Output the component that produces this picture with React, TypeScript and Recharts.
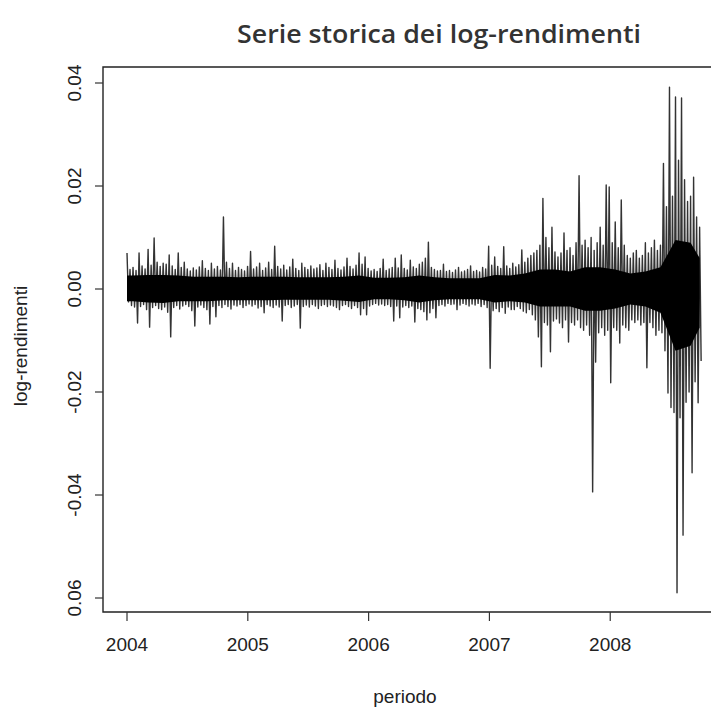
import React from "react";
import { ComposedChart, Line, Area, XAxis, YAxis, ReferenceArea } from "recharts";

const yearTicks = [2004, 2005, 2006, 2007, 2008];
const returnTicks = [0.04, 0.02, 0, -0.02, -0.04, -0.06];
const returnTickLabels = ["0.04", "0.02", "0.00", "-0.02", "-0.04", "0.06"];

const firstDay = 2004.0;
const lastDay = 2008.74;

// envelope of the daily log-returns, in thousandths, one pair every ~9 trading days
const highs = [
  7.0, 3.8, 4.2, 3.6, 7.0, 4.5, 3.9, 7.7, 4.6, 9.9,
  5.2, 4.4, 5.0, 4.8, 6.6, 4.5, 3.8, 7.0, 4.2, 5.2,
  3.9, 3.5, 4.1, 3.7, 4.3, 5.5, 4.0, 3.6, 5.0, 3.9,
  4.4, 3.7, 14.0, 5.2, 4.0, 5.0, 3.6, 4.2, 3.8, 3.5,
  4.4, 7.3, 3.9, 4.3, 5.0, 3.6, 4.1, 5.2, 3.8, 8.3,
  4.4, 3.9, 4.6, 3.7, 4.3, 5.8, 4.0, 3.6, 5.0, 4.2,
  3.8, 4.5, 3.9, 4.1, 4.7, 3.6, 5.0, 4.2, 3.8, 5.6,
  4.0, 3.7, 4.3, 6.0, 4.4, 3.9, 4.6, 7.0, 4.8, 6.2,
  4.0, 3.5, 3.8, 3.4, 4.0, 5.8, 3.6, 3.9, 4.2, 6.0,
  4.1, 6.6, 4.0, 3.7, 5.6, 4.3, 4.0, 4.8, 5.2, 6.0,
  9.1, 4.2, 3.8, 3.5, 3.6, 4.8, 3.4, 3.6, 3.2, 3.7,
  4.2, 3.3, 3.5, 3.8, 4.5, 3.4, 3.6, 3.3, 4.2, 3.9,
  8.3, 4.6, 6.2, 4.4, 4.0, 8.2, 4.5, 4.0, 5.0, 4.3,
  4.7, 7.6, 5.2, 6.0, 6.5, 7.0, 7.5, 8.5, 17.6, 10.0,
  8.0, 12.0, 7.2, 6.2, 7.0, 10.9, 7.5, 8.0, 6.5, 9.0,
  22.0, 8.5, 9.5, 8.0, 10.0, 7.5, 9.0, 12.0, 8.5, 20.2,
  19.8, 9.0, 13.0, 8.0, 17.3, 8.5, 6.5, 6.0, 7.0, 7.5,
  6.0, 6.5, 9.0, 7.0, 8.0, 9.5, 7.5, 8.5, 24.4, 16.0,
  39.2, 18.0, 37.3, 25.0, 37.1, 21.2, 17.0, 18.0, 21.7, 14.0, 12.0,
];

const lows = [
  -2.5, -3.2, -3.5, -6.6, -3.4, -3.0, -4.0, -7.4, -3.6, -3.2,
  -3.8, -4.0, -3.5, -4.5, -9.3, -3.6, -3.2, -3.9, -3.3, -3.0,
  -3.4, -4.2, -7.2, -3.5, -3.1, -3.6, -4.0, -6.8, -3.4, -5.4,
  -3.2, -3.6, -3.0, -3.4, -3.9, -3.1, -3.3, -3.0, -3.6, -3.2,
  -2.9, -3.3, -3.0, -3.7, -3.4, -4.6, -3.0, -3.3, -3.6, -3.1,
  -3.5, -6.2, -3.2, -3.0, -3.6, -3.3, -3.0, -7.6, -3.4, -3.1,
  -3.5, -3.0, -3.3, -3.8, -3.2, -3.0, -3.4, -3.1, -3.3, -3.6,
  -4.0, -3.2, -3.0, -3.4, -3.8, -3.2, -3.6, -5.0, -3.8, -5.0,
  -3.3, -3.0, -2.8, -3.1, -2.9, -3.2, -3.0, -3.4, -6.2, -3.3,
  -5.6, -3.5, -3.2, -3.6, -3.3, -6.4, -3.8, -4.0, -4.4, -6.0,
  -4.6, -3.8, -5.6, -3.2, -3.0, -3.3, -2.8, -3.0, -2.9, -4.0,
  -3.1, -2.8, -3.0, -3.3, -2.9, -3.1, -2.8, -3.4, -3.0, -3.6,
  -15.4, -4.2, -3.8, -4.4, -3.6, -4.7, -3.5, -4.0, -4.0, -3.4,
  -3.8, -4.3, -4.6, -4.0, -5.0, -6.0, -9.3, -15.1, -6.5, -7.0,
  -12.2, -6.2, -5.8, -6.6, -7.5, -6.0, -10.3, -6.5, -7.0, -6.0,
  -7.5, -8.0, -7.0, -9.0, -39.4, -14.2, -8.5, -7.5, -9.0, -8.0,
  -18.2, -7.5, -8.0, -10.5, -7.0, -7.5, -8.0, -6.0, -6.5, -6.0,
  -7.0, -6.5, -15.3, -6.5, -7.5, -9.0, -8.0, -8.5, -12.0, -20.2,
  -23.0, -24.0, -59.0, -25.0, -47.8, -22.0, -20.0, -35.7, -18.0, -22.1, -14.0,
];

// dense central band where most returns sit, in thousandths, every 5 envelope pairs
const coreHighs = [
  2.6, 2.7, 2.7, 2.6, 2.4, 2.4, 2.4, 2.3, 2.4, 2.4,
  2.4, 2.3, 2.3, 2.3, 2.4, 2.6, 2.2, 2.2, 2.3, 2.6,
  2.3, 2.1, 2.1, 2.1, 2.7, 2.6, 3.0, 3.8, 3.8, 3.4,
  4.2, 4.2, 3.8, 3.0, 3.4, 4.2, 9.5, 9.0, 6.0,
];
const coreLows = [
  -2.4, -2.6, -2.7, -2.4, -2.4, -2.4, -2.2, -2.2, -2.2, -2.2,
  -2.1, -2.1, -2.1, -2.1, -2.3, -2.5, -2.0, -2.0, -2.2, -2.6,
  -2.2, -2.0, -2.0, -2.0, -2.6, -2.4, -2.6, -3.4, -3.4, -3.4,
  -4.2, -4.2, -3.8, -3.0, -3.4, -4.6, -12.0, -11.0, -7.5,
];

const step = (lastDay - firstDay) / (highs.length - 1);
const lastBucket = highs.length - 1;
const data = highs.flatMap((h, i) => {
  const k = Math.floor(i / 5);
  // the band value is pinned at the middle of each group (and at both ends)
  const pinned = i % 5 === 2 || i === 0 || i === lastBucket;
  const core = pinned ? [coreLows[k] / 1000, coreHighs[k] / 1000] : undefined;
  return [
    { t: firstDay + i * step, r: h / 1000, core },
    { t: firstDay + (i + 0.5) * step, r: lows[i] / 1000 },
  ];
});

const xDomain = [2003.8013, 2009.157];
const yDomain = [-0.062718, 0.043107];
const font = "'Liberation Sans', Arial, Helvetica, sans-serif";
const chartW = 780;
const chartH = 709;

const YearTick = ({ x, payload }: any) => (
  <text x={x} y={651} textAnchor="middle" fontSize={19} fill="#222" fontFamily={font}>
    {payload.value}
  </text>
);

const ReturnTick = ({ y, payload }: any) => (
  <text
    transform={`translate(81, ${y}) rotate(-90)`}
    textAnchor="middle"
    fontSize={19}
    fill="#222"
    fontFamily={font}
  >
    {returnTickLabels[returnTicks.indexOf(payload.value)]}
  </text>
);

export default function App() {
  return (
    <div
      style={{
        position: "absolute",
        left: 0,
        top: 0,
        width: 711,
        height: 709,
        overflow: "hidden",
        background: "#fff",
      }}
    >
      <ComposedChart width={chartW} height={chartH} data={data} margin={{ top: 67, right: 30, bottom: 0, left: 0 }}>
        <XAxis
          type="number"
          dataKey="t"
          domain={xDomain}
          ticks={yearTicks}
          allowDataOverflow
          height={97}
          tickSize={9}
          axisLine={false}
          tickLine={{ stroke: "#333", strokeWidth: 1.2 }}
          tick={<YearTick />}
        />
        <YAxis
          type="number"
          domain={yDomain}
          ticks={returnTicks}
          allowDataOverflow
          width={103}
          tickSize={8}
          axisLine={false}
          tickLine={{ stroke: "#333", strokeWidth: 1.2 }}
          tick={<ReturnTick />}
        />
        <ReferenceArea
          x1={xDomain[0]}
          x2={xDomain[1]}
          y1={yDomain[0]}
          y2={yDomain[1]}
          fill="none"
          stroke="#222"
          strokeWidth={1.4}
        />
        <Line
          type="linear"
          dataKey="r"
          stroke="#333"
          strokeWidth={1.4}
          strokeLinejoin="round"
          dot={false}
          isAnimationActive={false}
        />
      </ComposedChart>
      {/* dense core drawn on a twin chart so it sits above the thin spikes */}
      <div style={{ position: "absolute", left: 0, top: 0, pointerEvents: "none" }}>
        <ComposedChart
          width={chartW}
          height={chartH}
          data={data}
          margin={{ top: 67, right: 30, bottom: 97, left: 103 }}
        >
          <XAxis type="number" dataKey="t" domain={xDomain} allowDataOverflow hide />
          <YAxis type="number" domain={yDomain} allowDataOverflow hide />
          <Area
            type="linear"
            dataKey="core"
            connectNulls
            stroke="none"
            fill="#000"
            fillOpacity={1}
            isAnimationActive={false}
          />
        </ComposedChart>
      </div>
      <svg
        width={711}
        height={709}
        style={{ position: "absolute", left: 0, top: 0, pointerEvents: "none" }}
      >
        <text
          x={439}
          y={43}
          textAnchor="middle"
          fontSize={25}
          fontWeight={600}
          fill="#333"
          fontFamily="'Open Sans', 'Noto Sans', sans-serif"
          textLength={404}
          lengthAdjust="spacingAndGlyphs"
        >
          Serie storica dei log-rendimenti
        </text>
        <text x={405} y={703} textAnchor="middle" fontSize={19} fill="#222" fontFamily={font}>
          periodo
        </text>
        <text
          transform="translate(27, 346) rotate(-90)"
          textAnchor="middle"
          fontSize={19}
          fill="#222"
          fontFamily={font}
        >
          log-rendimenti
        </text>
      </svg>
    </div>
  );
}
